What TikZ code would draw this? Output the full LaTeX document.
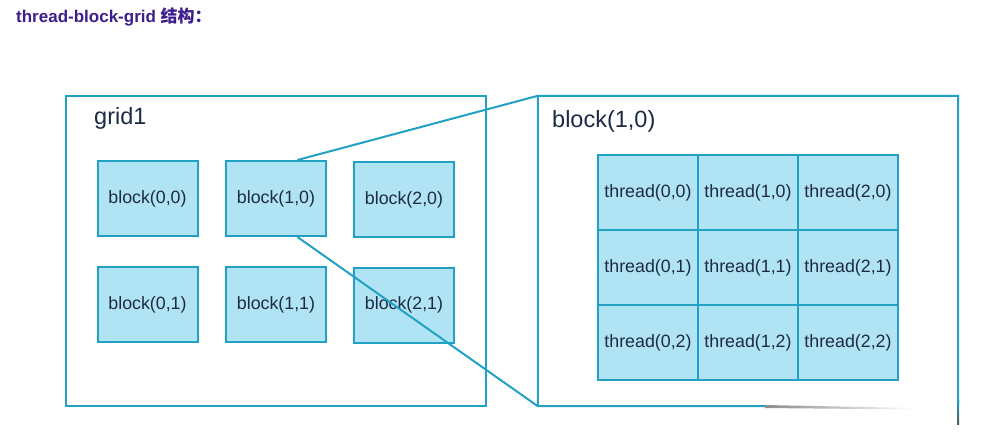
\documentclass[tikz,border=0pt]{standalone}
\usepackage{fontspec}
\setmainfont{Liberation Sans}
\newfontfamily\cjkfont{Noto Sans CJK SC}
\usetikzlibrary{calc}
\definecolor{bordercol}{RGB}{33,161,196}
\definecolor{fillcol}{RGB}{176,228,244}
\definecolor{textcol}{RGB}{30,42,70}
\definecolor{titlecol}{RGB}{60,30,140}
\tikzset{
  blockbox/.style={draw=bordercol, fill=fillcol, line width=2pt, minimum width=100pt, minimum height=75pt, inner sep=0pt, text=textcol, font=\fontsize{17.8}{20}\selectfont},
  cellbox/.style={draw=bordercol, fill=fillcol, line width=1.8pt, minimum width=100pt, minimum height=75pt, inner sep=0pt, text=textcol, font=\fontsize{17.8}{20}\selectfont},
  outerbox/.style={draw=bordercol, line width=2pt, minimum width=420pt, minimum height=310pt, inner sep=0pt},
  biglabel/.style={anchor=west, inner sep=0pt, text=textcol, font=\fontsize{23.5}{28}\selectfont},
  link/.style={draw=bordercol, line width=2pt}
}
\begin{document}
\begin{tikzpicture}[x=1pt,y=-1pt]
\useasboundingbox[fill=white] (0,0) rectangle (988,432);
% title
\node[anchor=west, inner sep=0pt, text=titlecol, font=\fontsize{17}{20}\selectfont\bfseries] (title) at (16,17) {thread-block-grid {\cjkfont\bfseries 结构：}};
% grid1
\node[outerbox] (grid) at (276,251) {};
\node[biglabel] (gridlabel) at (94,118) {grid1};
\node[blockbox] (b00) at (147.5,198.5) {block(0,0)};
\node[blockbox] (b10) at (276,198.5) {block(1,0)};
\node[blockbox] (b20) at (404,199.5) {block(2,0)};
\node[blockbox] (b01) at (147.5,304.5) {block(0,1)};
\node[blockbox] (b11) at (276,304.5) {block(1,1)};
\node[blockbox] (b21) at (404,305) {block(2,1)};
% big block(1,0)
\node[minimum width=420pt, minimum height=310pt, inner sep=0pt] (big) at (748,251) {};
\draw[bordercol, line width=2pt, line join=miter] (765,406) -- (big.south west) -- (big.north west) -- (big.north east) -- (958,404);
\shade[left color=gray!90, right color=white] (765,405) -- (915,408) -- (915,409.5) -- (765,408) -- cycle;
\shade[top color=bordercol, bottom color=gray!70!black] (957,400) rectangle (959,424);
\node[biglabel] (biglabel) at (552,121) {block(1,0)};
% threads
\foreach \i in {0,1,2}{
  \foreach \j in {0,1,2}{
    \node[cellbox] (t\i\j) at ({648+100*\i},{192.5+75*\j}) {thread(\i,\j)};
  }
}
% connectors
\coordinate (topstart) at ($(b10.north west)!0.71!(b10.north east)$);
\coordinate (botstart) at ($(b10.south west)!0.71!(b10.south east)$);
\draw[link] (topstart) -- (big.north west);
\draw[link] (botstart) -- (big.south west);
\end{tikzpicture}
\end{document}
